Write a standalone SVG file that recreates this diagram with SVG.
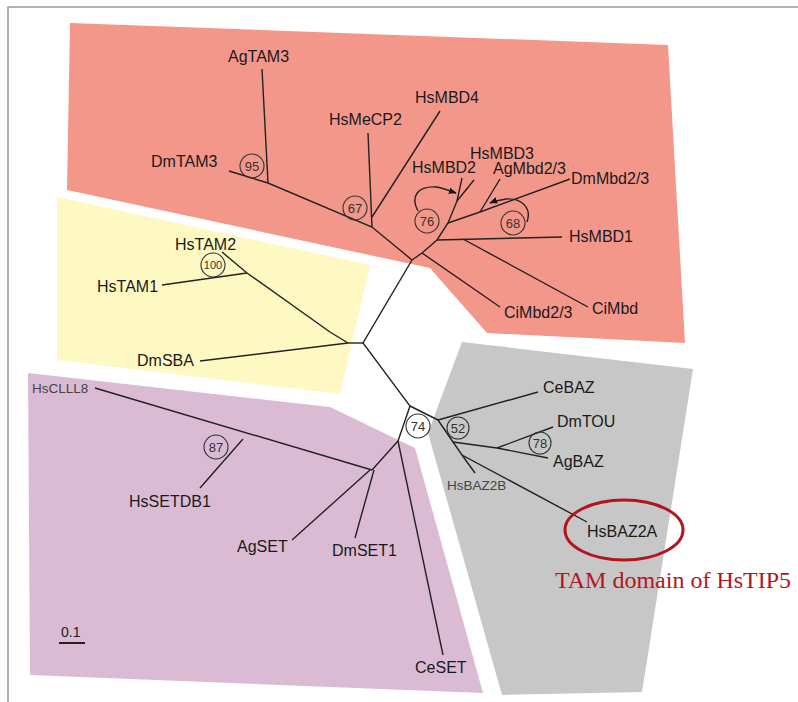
<svg xmlns="http://www.w3.org/2000/svg" width="798" height="702" viewBox="0 0 798 702">
<defs>
<style>
.lbl{font-family:"Liberation Sans",Arial,sans-serif;font-size:16px;fill:#1a1a1a}
.sm{font-family:"Liberation Sans",Arial,sans-serif;font-size:13.5px;fill:#444}
.bs{font-family:"Liberation Sans",Arial,sans-serif;font-size:13px;fill:#333;text-anchor:middle}
.br{fill:none;stroke:#222;stroke-width:1.4}
.bc{fill:none;stroke:#333;stroke-width:1.1}
</style>
<marker id="ah" viewBox="0 0 10 10" refX="9" refY="5" markerWidth="8" markerHeight="8" orient="auto" markerUnits="userSpaceOnUse">
<path d="M0,1 L10,5 L0,9 z" fill="#111"/>
</marker>
</defs>
<rect width="798" height="702" fill="#fff"/>
<path d="M8,702 V7 H798" fill="none" stroke="#999" stroke-width="1.5"/>
<g id="regions">
<polygon points="70,23 668,45 685,343 487,333 430,268 67,190" fill="#F4978B"/>
<polygon points="57,197 370,265 340,394 57,360" fill="#FEF8C2"/>
<polygon points="28,373 330,407 415,448 483,693 30,675" fill="#DBBBD4"/>
<polygon points="462,342 693,369 642,692 502,695 428,433" fill="#C7C7C7"/>
</g>
<g id="connectors">
<polyline class="br" points="412,260 363,343 410,406 398,441"/>
<line class="br" x1="363" y1="343" x2="348" y2="343"/>
<line class="br" x1="348" y1="343" x2="200" y2="361"/>
<polyline class="br" points="348,343 330,332 247,273 222,252"/>
<line class="br" x1="247" y1="273" x2="162" y2="285"/>
<polyline class="br" points="412,260 372,227 268,183 229,171"/>
<line class="br" x1="268" y1="183" x2="262" y2="69"/>
<line class="br" x1="372" y1="227" x2="368" y2="133"/>
<line class="br" x1="372" y1="217" x2="440" y2="111"/>
<polyline class="br" points="412,260 422,253 437,240 448,223 457,201 462,178"/>
<line class="br" x1="457" y1="201" x2="474" y2="180"/>
<line class="br" x1="422" y1="253" x2="500" y2="307"/>
<line class="br" x1="437" y1="240" x2="562" y2="237"/>
<line class="br" x1="463" y1="239" x2="588" y2="307"/>
<polyline class="br" points="448,223 480,212 570,179"/>
<line class="br" x1="480" y1="212" x2="500" y2="179"/>
<line class="br" x1="398" y1="441" x2="443" y2="655"/>
<line class="br" x1="398" y1="441" x2="372" y2="470"/>
<line class="br" x1="372" y1="470" x2="95" y2="388"/>
<line class="br" x1="243" y1="439" x2="200" y2="488"/>
<line class="br" x1="370" y1="470" x2="292" y2="540"/>
<line class="br" x1="374" y1="470" x2="355" y2="538"/>
<line class="br" x1="410" y1="406" x2="438" y2="420"/>
<line class="br" x1="438" y1="420" x2="538" y2="392"/>
<polyline class="br" points="438,420 453,442 462,455 587,522"/>
<line class="br" x1="462" y1="455" x2="475" y2="473"/>
<polyline class="br" points="453,442 497,448 548,458"/>
<line class="br" x1="497" y1="448" x2="553" y2="427"/>
<path class="br" d="M418,211 C410,196 418,186 436,187 C444,188 450,191 456,193" marker-end="url(#ah)"/>
<path class="br" d="M527,222 C532,208 522,198 506,199 C500,200 495,201 490,203" marker-end="url(#ah)"/>
</g>
<g id="bootstrap">
<circle class="bc" cx="252" cy="166" r="12"/><text class="bs" x="252" y="171">95</text>
<circle class="bc" cx="355" cy="208" r="12"/><text class="bs" x="355" y="213">67</text>
<circle class="bc" cx="427" cy="221" r="12"/><text class="bs" x="427" y="226">76</text>
<circle class="bc" cx="513" cy="223" r="12"/><text class="bs" x="513" y="228">68</text>
<circle class="bc" cx="213" cy="265" r="12"/><text class="bs" x="213" y="269" style="font-size:11px">100</text>
<circle class="bc" cx="216" cy="447" r="12"/><text class="bs" x="216" y="452">87</text>
<circle class="bc" cx="418" cy="426" r="12" style="fill:#fff"/><text class="bs" x="418" y="431">74</text>
<circle class="bc" cx="458" cy="428" r="11"/><text class="bs" x="458" y="433">52</text>
<circle class="bc" cx="540" cy="443" r="11"/><text class="bs" x="540" y="448">78</text>
</g>
<g id="n-AgTAM3"><text class="lbl" x="228" y="62">AgTAM3</text></g>
<g id="n-DmTAM3"><text class="lbl" x="151" y="167">DmTAM3</text></g>
<g id="n-HsMeCP2"><text class="lbl" x="329" y="125">HsMeCP2</text></g>
<g id="n-HsMBD4"><text class="lbl" x="415" y="103">HsMBD4</text></g>
<g id="n-HsMBD3"><text class="lbl" x="470" y="159">HsMBD3</text></g>
<g id="n-HsMBD2"><text class="lbl" x="412" y="173">HsMBD2</text></g>
<g id="n-AgMbd23"><text class="lbl" x="493" y="174">AgMbd2/3</text></g>
<g id="n-DmMbd23"><text class="lbl" x="571" y="184">DmMbd2/3</text></g>
<g id="n-HsMBD1"><text class="lbl" x="569" y="242">HsMBD1</text></g>
<g id="n-CiMbd23"><text class="lbl" x="504" y="318">CiMbd2/3</text></g>
<g id="n-CiMbd"><text class="lbl" x="592" y="314">CiMbd</text></g>
<g id="n-HsTAM2"><text class="lbl" x="175" y="250">HsTAM2</text></g>
<g id="n-HsTAM1"><text class="lbl" x="97" y="292">HsTAM1</text></g>
<g id="n-DmSBA"><text class="lbl" x="137" y="366">DmSBA</text></g>
<g id="n-HsCLLL8"><text class="sm" x="32" y="393">HsCLLL8</text></g>
<g id="n-HsSETDB1"><text class="lbl" x="129" y="507">HsSETDB1</text></g>
<g id="n-AgSET"><text class="lbl" x="237" y="552">AgSET</text></g>
<g id="n-DmSET1"><text class="lbl" x="332" y="556">DmSET1</text></g>
<g id="n-CeSET"><text class="lbl" x="415" y="673">CeSET</text></g>
<g id="n-CeBAZ"><text class="lbl" x="543" y="393">CeBAZ</text></g>
<g id="n-DmTOU"><text class="lbl" x="557" y="427">DmTOU</text></g>
<g id="n-AgBAZ"><text class="lbl" x="553" y="467">AgBAZ</text></g>
<g id="n-HsBAZ2B"><text class="sm" x="447" y="490">HsBAZ2B</text></g>
<g id="n-HsBAZ2A"><text class="lbl" x="587" y="537">HsBAZ2A</text>
<ellipse cx="624" cy="530" rx="59" ry="30" fill="none" stroke="#B3151E" stroke-width="3"/></g>
<g id="annotation"><text x="555" y="588" style="font-family:'Liberation Serif','Times New Roman',serif;font-size:24px;fill:#B3151E">TAM domain of HsTIP5</text></g>
<g id="scale"><text x="61" y="637" style="font-family:'Liberation Sans',Arial,sans-serif;font-size:14px;fill:#222">0.1</text>
<line x1="59" y1="643" x2="85" y2="643" stroke="#222" stroke-width="2"/></g>
</svg>
